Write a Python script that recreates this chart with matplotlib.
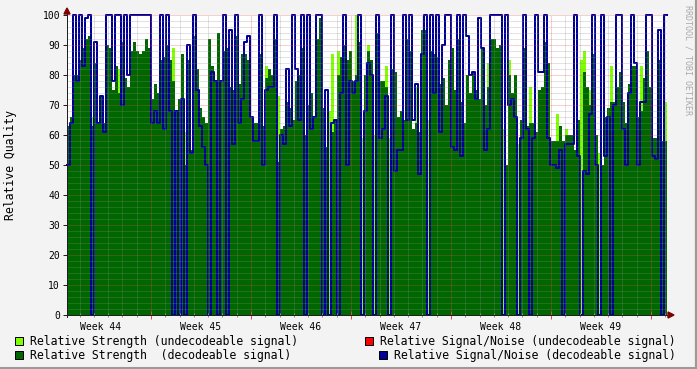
import numpy as np
import matplotlib
matplotlib.use("Agg")
import matplotlib.pyplot as plt
from matplotlib.patches import Rectangle, Polygon
from matplotlib.lines import Line2D

# ---------------- data (one sample = 0.21 day) ----------------
STEP_DAYS = 0.21
FIRST_MONDAY = 5.88          # days from start to first week boundary
week_labels = ["Week 44", "Week 45", "Week 46", "Week 47", "Week 48", "Week 49"]
y_ticks = [0, 10, 20, 30, 40, 50, 60, 70, 80, 90, 100]

strength_decoded = [
    63, 66, 80, 80, 85, 89, 92, 93, 63, 84, 64, 73, 64, 90, 89, 75, 83, 74, 91, 79,
    76, 88, 91, 88, 87, 88, 92, 89, 72, 77, 74, 85, 86, 90, 85, 78, 68, 72, 87, 50,
    85, 55, 93, 82, 69, 66, 64, 92, 83, 78, 94, 78, 88, 89, 76, 75, 93, 77, 87, 87,
    85, 66, 64, 64, 87, 63, 79, 82, 80, 92, 51, 62, 63, 71, 69, 65, 78, 80, 89, 60,
    70, 74, 66, 92, 99, 69, 56, 0, 61, 65, 80, 86, 90, 85, 88, 78, 80, 91, 0, 80,
    88, 85, 0, 94, 78, 78, 76, 0, 82, 81, 66, 68, 65, 92, 88, 62, 64, 61, 95, 95,
    0, 88, 87, 86, 77, 79, 70, 85, 89, 75, 92, 71, 64, 80, 74, 81, 75, 72, 89, 70,
    76, 92, 92, 89, 90, 0, 50, 80, 74, 80, 0, 65, 89, 63, 64, 64, 61, 75, 76, 91,
    84, 58, 58, 58, 63, 58, 60, 60, 60, 55, 65, 0, 81, 76, 70, 87, 60, 0, 50, 66,
    69, 71, 71, 76, 81, 71, 64, 77, 83, 83, 66, 68, 79, 88, 76, 59, 59, 85, 58, 58,
]

strength_undecoded = [
    0, 0, 0, 0, 0, 0, 0, 0, 66, 0, 0, 0, 0, 0, 0, 0, 0, 82, 0, 0,
    0, 0, 0, 0, 0, 0, 0, 0, 0, 0, 0, 0, 0, 0, 0, 89, 0, 0, 0, 61,
    0, 0, 0, 0, 0, 0, 0, 0, 0, 0, 0, 0, 0, 0, 0, 0, 0, 0, 0, 0,
    0, 0, 0, 0, 0, 0, 83, 0, 0, 0, 73, 0, 0, 0, 0, 0, 0, 0, 0, 0,
    0, 0, 0, 0, 0, 0, 0, 68, 87, 0, 88, 0, 0, 0, 0, 0, 100, 0, 59, 0,
    90, 0, 60, 0, 0, 0, 83, 59, 0, 0, 0, 0, 0, 0, 0, 0, 76, 0, 0, 0,
    65, 0, 0, 0, 0, 0, 0, 0, 0, 0, 0, 0, 0, 0, 0, 0, 0, 0, 0, 0,
    84, 0, 0, 0, 0, 62, 0, 85, 0, 0, 57, 0, 0, 0, 76, 0, 0, 0, 0, 0,
    0, 0, 0, 67, 0, 0, 62, 0, 0, 0, 0, 85, 88, 0, 75, 0, 0, 54, 0, 0,
    0, 83, 0, 0, 0, 0, 0, 0, 0, 0, 0, 83, 0, 0, 0, 0, 0, 0, 0, 71,
]

snr_decoded = [
    50, 64, 100, 78, 100, 83, 99, 100, 0, 91, 64, 73, 61, 100, 100, 78, 100, 100, 70, 100,
    80, 100, 100, 100, 100, 100, 100, 100, 64, 68, 64, 100, 62, 100, 68, 0, 68, 0, 72, 0,
    90, 54, 100, 75, 63, 56, 50, 0, 81, 78, 0, 78, 100, 0, 95, 57, 100, 64, 72, 91,
    93, 66, 58, 58, 100, 50, 75, 76, 76, 100, 0, 60, 57, 82, 63, 100, 82, 65, 100, 0,
    100, 62, 66, 100, 100, 0, 75, 0, 64, 65, 0, 74, 100, 50, 78, 74, 78, 100, 0, 68,
    84, 80, 0, 100, 59, 62, 73, 0, 100, 48, 55, 55, 100, 65, 100, 65, 77, 47, 87, 100,
    0, 100, 74, 100, 61, 90, 100, 100, 56, 55, 100, 53, 100, 93, 80, 81, 72, 99, 89, 55,
    62, 100, 100, 100, 100, 0, 100, 70, 72, 66, 0, 59, 100, 62, 0, 59, 100, 81, 81, 100,
    59, 50, 50, 49, 55, 0, 57, 57, 57, 100, 53, 0, 48, 47, 67, 100, 50, 0, 100, 53,
    66, 0, 70, 100, 100, 62, 50, 74, 100, 84, 50, 71, 71, 100, 100, 53, 52, 95, 0, 100,
]

legend_labels = [
    "Relative Strength (undecodeable signal)",
    "Relative Signal/Noise (undecodeable signal)",
    "Relative Strength  (decodeable signal)",
    "Relative Signal/Noise (decodeable signal)",
]

# ---------------- style ----------------
LGREEN = "#80FF00"
DGREEN = "#006600"
BLUE = "#000099"
RED = "#FF0000"
BACK = "#F3F3F3"
MONO = "DejaVu Sans Mono"

W, H = 697, 369
fig = plt.figure(figsize=(W / 100, H / 100), dpi=100, facecolor=BACK)


def fx(px):
    return px / W


def fy(py):
    return 1 - py / H


L, R, T, B = 67, 667, 15, 315
ax = fig.add_axes([fx(L), fy(B), (R - L) / W, (B - T) / H])
ax.set_facecolor("white")

n = len(strength_decoded)
x = np.arange(n + 1) * STEP_DAYS
g = np.append(strength_decoded, strength_decoded[-1])
lg = np.append(strength_undecoded, strength_undecoded[-1])
b = np.append(snr_decoded, snr_decoded[-1])

ax.fill_between(x, lg, step="post", color=LGREEN, lw=0, zorder=1)
ax.fill_between(x, g, step="post", color=DGREEN, lw=0, zorder=2)
ax.step(x, b, where="post", color=BLUE, lw=1.44, zorder=3, clip_on=False)

total = n * STEP_DAYS
ax.set_xlim(0, total)
ax.set_ylim(0, 100)

# grid (drawn on top, like rrdtool)
dot = (0, (1, 1))
for yv in range(2, 101, 2):
    if yv % 10 == 0:
        ax.axhline(yv, color="#E05050", alpha=0.55, lw=0.72, ls=dot, zorder=4)
    else:
        ax.axhline(yv, color="#8F8F8F", alpha=0.5, lw=0.72, ls=dot, zorder=4)

day_lines = []
d = FIRST_MONDAY - 7
while d < total:
    if d > 0.05:
        day_lines.append(d)
    d += 1
major_days = [FIRST_MONDAY + 7 * k for k in range(6) if FIRST_MONDAY + 7 * k < total]
for dl in day_lines:
    is_major = any(abs(dl - m) < 1e-6 for m in major_days)
    ax.axvline(dl, color="#E05050" if is_major else "#8F8F8F",
               alpha=0.55 if is_major else 0.5, lw=0.72, ls=dot, zorder=4)

for s in ax.spines.values():
    s.set_visible(False)

# ticks
ax.set_yticks(y_ticks)
ax.set_yticklabels([str(v) for v in y_ticks], fontfamily=MONO, fontsize=7)
ax.tick_params(axis="y", length=3, width=0.72, color="#202020", pad=2)
mids = [FIRST_MONDAY - 3.5 + 7 * k for k in range(len(week_labels))]
ax.set_xticks(mids)
ax.set_xticklabels(week_labels, fontfamily=MONO, fontsize=7)
ax.tick_params(axis="x", length=0, pad=5)
xt = ax.get_xaxis_transform()
minor_only = [dl for dl in day_lines if not any(abs(dl - m) < 1e-6 for m in major_days)]
ax.vlines(minor_only, -0.008, 0.008, transform=xt, color="#8F8F8F", lw=0.72, clip_on=False, zorder=6)
ax.vlines(major_days, -0.012, 0.012, transform=xt, color="#E05050", lw=0.72, clip_on=False, zorder=6)

# axes with arrows
fig.add_artist(Line2D([fx(L), fx(670)], [fy(B), fy(B)], color="#202020", lw=0.72, zorder=5))
fig.add_artist(Line2D([fx(L), fx(L)], [fy(B + 2), fy(11)], color="#202020", lw=0.72, zorder=5))
fig.add_artist(Polygon([[fx(668), fy(312)], [fx(668), fy(318)], [fx(674), fy(315)]],
                       closed=True, color="#7F0000", zorder=6))
fig.add_artist(Polygon([[fx(64), fy(14)], [fx(70), fy(14)], [fx(67), fy(8)]],
                       closed=True, color="#7F0000", zorder=6))

# y label
fig.text(fx(11), fy(165), "Relative Quality", rotation=90, ha="center", va="center",
         fontfamily=MONO, fontsize=8.3)

# watermark
fig.text(fx(688), fy(5), "RRDTOOL / TOBI OETIKER", rotation=270, ha="center", va="top",
         fontfamily=MONO, fontsize=6, color="#AAAAAA")

# legend
entries = [
    (15, 341, LGREEN, legend_labels[0]),
    (365, 341, RED, legend_labels[1]),
    (15, 355, DGREEN, legend_labels[2]),
    (379, 355, BLUE, legend_labels[3]),
]
for px, py, col, lab in entries:
    fig.add_artist(Rectangle((fx(px), fy(py + 4)), 8 / W, 8 / H, facecolor=col,
                             edgecolor="black", lw=0.72, zorder=5))
    fig.text(fx(px + 15), fy(py), lab, ha="left", va="center", fontfamily=MONO, fontsize=8.3)

# frame shading
fig.add_artist(Line2D([0, 1], [fy(368), fy(368)], color="#9A9A9A", lw=2.2, zorder=7))
fig.add_artist(Line2D([fx(696), fx(696)], [0, 1], color="#9A9A9A", lw=1.6, zorder=7))

fig.savefig("out.png", dpi=100, facecolor=BACK)
